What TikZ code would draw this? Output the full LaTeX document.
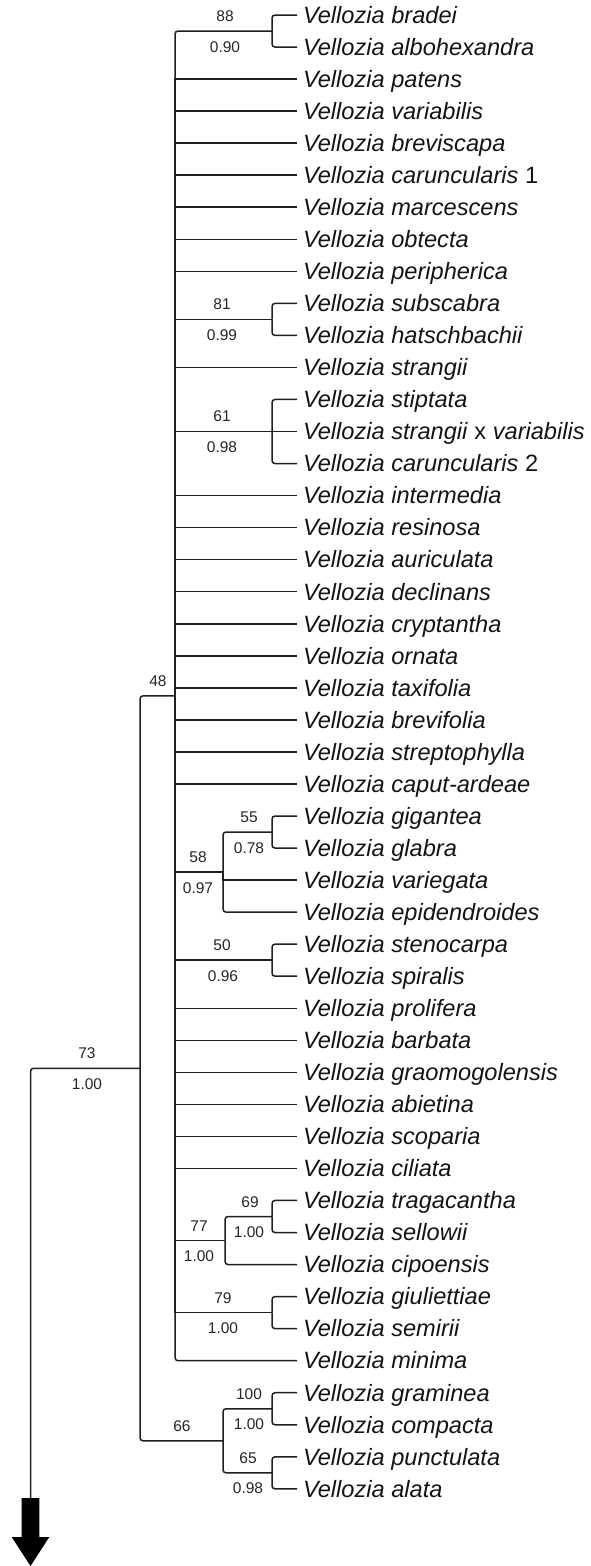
\documentclass[tikz,border=0pt]{standalone}
\usepackage{fontspec}
\setmainfont{Liberation Sans}
\begin{document}
\begin{tikzpicture}[x=1pt,y=-1pt,
  edge/.style={draw=black!88, line width=1.5pt},
  rc/.style={rounded corners=3pt},
  leaf/.style={anchor=west, inner sep=0pt, outer sep=0pt, text height=16.6pt, text depth=0pt,
    font=\fontsize{23.6}{28}\selectfont\itshape, text=black!92},
  bs/.style={inner sep=0pt, font=\fontsize{15.5}{18}\selectfont, text=black!85}]
\useasboundingbox (0,0) rectangle (590,1566);

% leaves
\node[leaf] (L1) at (303,15) {Vellozia bradei};
\node[leaf] (L2) at (303,47.04) {Vellozia albohexandra};
\node[leaf] (L3) at (303,79.08) {Vellozia patens};
\node[leaf] (L4) at (303,111.12) {Vellozia variabilis};
\node[leaf] (L5) at (303,143.16) {Vellozia breviscapa};
\node[leaf] (L6) at (303,175.2) {Vellozia caruncularis \textup{1}};
\node[leaf] (L7) at (303,207.24) {Vellozia marcescens};
\node[leaf] (L8) at (303,239.28) {Vellozia obtecta};
\node[leaf] (L9) at (303,271.32) {Vellozia peripherica};
\node[leaf] (L10) at (303,303.36) {Vellozia subscabra};
\node[leaf] (L11) at (303,335.4) {Vellozia hatschbachii};
\node[leaf] (L12) at (303,367.44) {Vellozia strangii};
\node[leaf] (L13) at (303,399.48) {Vellozia stiptata};
\node[leaf] (L14) at (303,431.52) {Vellozia strangii \textup{x} variabilis};
\node[leaf] (L15) at (303,463.56) {Vellozia caruncularis \textup{2}};
\node[leaf] (L16) at (303,495.6) {Vellozia intermedia};
\node[leaf] (L17) at (303,527.64) {Vellozia resinosa};
\node[leaf] (L18) at (303,559.68) {Vellozia auriculata};
\node[leaf] (L19) at (303,591.72) {Vellozia declinans};
\node[leaf] (L20) at (303,623.76) {Vellozia cryptantha};
\node[leaf] (L21) at (303,655.8) {Vellozia ornata};
\node[leaf] (L22) at (303,687.84) {Vellozia taxifolia};
\node[leaf] (L23) at (303,719.88) {Vellozia brevifolia};
\node[leaf] (L24) at (303,751.92) {Vellozia streptophylla};
\node[leaf] (L25) at (303,783.96) {Vellozia caput-ardeae};
\node[leaf] (L26) at (303,816) {Vellozia gigantea};
\node[leaf] (L27) at (303,848.04) {Vellozia glabra};
\node[leaf] (L28) at (303,880.08) {Vellozia variegata};
\node[leaf] (L29) at (303,912.12) {Vellozia epidendroides};
\node[leaf] (L30) at (303,944.16) {Vellozia stenocarpa};
\node[leaf] (L31) at (303,976.2) {Vellozia spiralis};
\node[leaf] (L32) at (303,1008.24) {Vellozia prolifera};
\node[leaf] (L33) at (303,1040.28) {Vellozia barbata};
\node[leaf] (L34) at (303,1072.32) {Vellozia graomogolensis};
\node[leaf] (L35) at (303,1104.36) {Vellozia abietina};
\node[leaf] (L36) at (303,1136.4) {Vellozia scoparia};
\node[leaf] (L37) at (303,1168.44) {Vellozia ciliata};
\node[leaf] (L38) at (303,1200.48) {Vellozia tragacantha};
\node[leaf] (L39) at (303,1232.52) {Vellozia sellowii};
\node[leaf] (L40) at (303,1264.56) {Vellozia cipoensis};
\node[leaf] (L41) at (303,1296.6) {Vellozia giuliettiae};
\node[leaf] (L42) at (303,1328.64) {Vellozia semirii};
\node[leaf] (L43) at (303,1360.68) {Vellozia minima};
\node[leaf] (L44) at (303,1392.72) {Vellozia graminea};
\node[leaf] (L45) at (303,1424.76) {Vellozia compacta};
\node[leaf] (L46) at (303,1456.8) {Vellozia punctulata};
\node[leaf] (L47) at (303,1488.84) {Vellozia alata};

% internal nodes
\coordinate (n88) at (272,31.02);
\coordinate (n81) at (272,319.38);
\coordinate (n61) at (272,431.52);
\coordinate (n55) at (272,832.02);
\coordinate (n58) at (223,872.07);
\coordinate (n50) at (272,960.18);
\coordinate (n69) at (272,1216.5);
\coordinate (n77) at (225,1240.53);
\coordinate (n79) at (272,1312.62);
\coordinate (n100) at (272,1408.74);
\coordinate (n65) at (272,1472.82);
\coordinate (n66) at (223,1440.78);
\coordinate (n48) at (175,695.85);
\coordinate (n73) at (140,1068.3);
\coordinate (arrtop) at (30.5,1498);

% root and arrow
\draw[edge,rc] (arrtop) |- (n73);
\fill[black] (arrtop) ++(-8.8,0) -- ++(17.6,0) -- ++(0,39) -- ++(10,0) -- (30.5,1566) -- (11.7,1537) -- (21.7,1537) -- cycle;

% backbone
\draw[edge,rc] (n73) |- (n48);
\draw[edge,rc] (n73) |- (n66);

% big polytomy
\draw[edge,rc] (n48) |- (n88);
\foreach \k in {3,...,9} {\draw[edge] (n48) |- ([xshift=-6pt]L\k.west);}
\draw[edge] (n48) |- (n81);
\draw[edge] (n48) |- ([xshift=-6pt]L12.west);
\draw[edge] (n48) |- (n61);
\foreach \k in {16,...,25} {\draw[edge] (n48) |- ([xshift=-6pt]L\k.west);}
\draw[edge] (n48) |- (n58);
\draw[edge] (n48) |- (n50);
\foreach \k in {32,...,37} {\draw[edge] (n48) |- ([xshift=-6pt]L\k.west);}
\draw[edge] (n48) |- (n77);
\draw[edge] (n48) |- (n79);
\draw[edge,rc] (n48) |- ([xshift=-6pt]L43.west);

% cherries
\draw[edge,rc] (n88) |- ([xshift=-6pt]L1.west);
\draw[edge,rc] (n88) |- ([xshift=-6pt]L2.west);
\draw[edge,rc] (n81) |- ([xshift=-6pt]L10.west);
\draw[edge,rc] (n81) |- ([xshift=-6pt]L11.west);
\draw[edge,rc] (n61) |- ([xshift=-6pt]L13.west);
\draw[edge] (n61) -- ([xshift=-6pt]L14.west);
\draw[edge,rc] (n61) |- ([xshift=-6pt]L15.west);
\draw[edge,rc] (n58) |- (n55);
\draw[edge] (n58) |- ([xshift=-6pt]L28.west);
\draw[edge,rc] (n58) |- ([xshift=-6pt]L29.west);
\draw[edge,rc] (n55) |- ([xshift=-6pt]L26.west);
\draw[edge,rc] (n55) |- ([xshift=-6pt]L27.west);
\draw[edge,rc] (n50) |- ([xshift=-6pt]L30.west);
\draw[edge,rc] (n50) |- ([xshift=-6pt]L31.west);
\draw[edge,rc] (n77) |- (n69);
\draw[edge,rc] (n77) |- ([xshift=-6pt]L40.west);
\draw[edge,rc] (n69) |- ([xshift=-6pt]L38.west);
\draw[edge,rc] (n69) |- ([xshift=-6pt]L39.west);
\draw[edge,rc] (n79) |- ([xshift=-6pt]L41.west);
\draw[edge,rc] (n79) |- ([xshift=-6pt]L42.west);
\draw[edge,rc] (n66) |- (n100);
\draw[edge,rc] (n66) |- (n65);
\draw[edge,rc] (n100) |- ([xshift=-6pt]L44.west);
\draw[edge,rc] (n100) |- ([xshift=-6pt]L45.west);
\draw[edge,rc] (n65) |- ([xshift=-6pt]L46.west);
\draw[edge,rc] (n65) |- ([xshift=-6pt]L47.west);

% support labels
\node[bs] (b88) at (225,16.5) {88};
\node[bs] (p88) at (225,47) {0.90};
\node[bs] (b81) at (222,304.5) {81};
\node[bs] (p81) at (222,335) {0.99};
\node[bs] (b61) at (222,416.5) {61};
\node[bs] (p61) at (222,447.5) {0.98};
\node[bs] (b48) at (158,681) {48};
\node[bs] (b55) at (249,817.5) {55};
\node[bs] (p55) at (249,848) {0.78};
\node[bs] (b58) at (198,857.5) {58};
\node[bs] (p58) at (198,888) {0.97};
\node[bs] (b50) at (222,945.5) {50};
\node[bs] (p50) at (223,976.5) {0.96};
\node[bs] (b73) at (87,1053.5) {73};
\node[bs] (p73) at (87,1084) {1.00};
\node[bs] (b69) at (250,1202) {69};
\node[bs] (p69) at (249,1232.5) {1.00};
\node[bs] (b77) at (199,1226) {77};
\node[bs] (p77) at (199,1256.5) {1.00};
\node[bs] (b79) at (223,1298) {79};
\node[bs] (p79) at (223,1328.5) {1.00};
\node[bs] (b100) at (249,1394) {100};
\node[bs] (p100) at (249,1424.5) {1.00};
\node[bs] (b66) at (182,1426) {66};
\node[bs] (b65) at (248,1458) {65};
\node[bs] (p65) at (248,1488.5) {0.98};
\end{tikzpicture}
\end{document}
